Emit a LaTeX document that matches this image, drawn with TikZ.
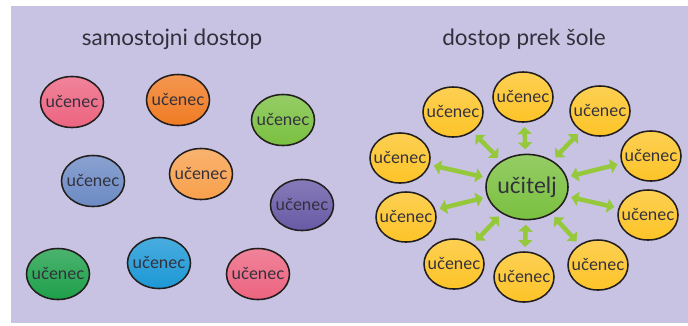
\documentclass[tikz,border=0pt]{standalone}
\usepackage{fontspec}
\setmainfont{Lato}
\usepackage{tikz}
\usetikzlibrary{shapes.geometric,arrows.meta}
\definecolor{lavender}{RGB}{200,195,226}
\definecolor{edge}{RGB}{35,30,30}
\definecolor{ink}{RGB}{50,48,60}
\definecolor{rose}{RGB}{236,100,128}
\definecolor{tangerine}{RGB}{240,124,36}
\definecolor{leaf}{RGB}{122,192,64}
\definecolor{steel}{RGB}{108,138,196}
\definecolor{apricot}{RGB}{248,160,76}
\definecolor{violet}{RGB}{104,90,166}
\definecolor{forest}{RGB}{30,160,74}
\definecolor{sky}{RGB}{28,152,214}
\definecolor{sun}{RGB}{253,196,40}
\definecolor{lime}{RGB}{150,200,60}

\begin{document}
\begin{tikzpicture}[x=0.025cm,y=-0.025cm,
  every node/.style={text=ink},
  pupil/.style={ellipse,draw=edge,line width=1.1pt,inner xsep=-5pt,inner ysep=0pt,
    minimum width=1.575cm,minimum height=1.275cm,
    top color=#1!80!white,bottom color=#1,
    font=\fontsize{12}{14}\selectfont},
  ring/.style={pupil=sun,minimum width=1.5cm,minimum height=1.25cm},
  link/.style={{Triangle[width=10pt,length=5pt]}-{Triangle[width=10pt,length=5pt]},
    draw=lime,line width=3.2pt,shorten <=3pt,shorten >=3pt}]
\useasboundingbox (0,0) rectangle (688,325);
\fill[lavender] (11,6) rectangle (688,323);
% samostojni dostop
\node[font=\fontsize{16}{18}\selectfont] (t1) at (172,39) {samostojni dostop};
\node[pupil=rose] (u1) at (72,102) {učenec};
\node[pupil=tangerine] (u2) at (178,100) {učenec};
\node[pupil=leaf] (u3) at (283,120) {učenec};
\node[pupil=steel] (u4) at (93,181) {učenec};
\node[pupil=apricot] (u5) at (201,174) {učenec};
\node[pupil=violet] (u6) at (302,205) {učenec};
\node[pupil=forest] (u7) at (58,274) {učenec};
\node[pupil=sky] (u8) at (159,263) {učenec};
\node[pupil=rose] (u9) at (258,274) {učenec};
% dostop prek šole
\node[font=\fontsize{16}{18}\selectfont] (t2) at (524,39) {dostop prek šole};
\node[pupil=leaf,minimum width=2.05cm,minimum height=1.63cm,
  font=\fontsize{16}{18}\selectfont] (uc) at (527,187) {učitelj};
\node[ring] (s1) at (523,97) {učenec};
\node[ring] (s2) at (600,111) {učenec};
\node[ring] (s3) at (651,156) {učenec};
\node[ring] (s4) at (648,215) {učenec};
\node[ring] (s5) at (598,265) {učenec};
\node[ring] (s6) at (524,277) {učenec};
\node[ring] (s7) at (454,264) {učenec};
\node[ring] (s8) at (406,217) {učenec};
\node[ring] (s9) at (400,158) {učenec};
\node[ring] (s10) at (453,112) {učenec};
\draw[link] (s1) -- (uc);
\draw[link] (s2) -- (uc);
\draw[link] (s3) -- (uc);
\draw[link] (s4) -- (uc);
\draw[link] (s5) -- (uc);
\draw[link] (s6) -- (uc);
\draw[link] (s7) -- (uc);
\draw[link] (s8) -- (uc);
\draw[link] (s9) -- (uc);
\draw[link] (s10) -- (uc);
\end{tikzpicture}
\end{document}
